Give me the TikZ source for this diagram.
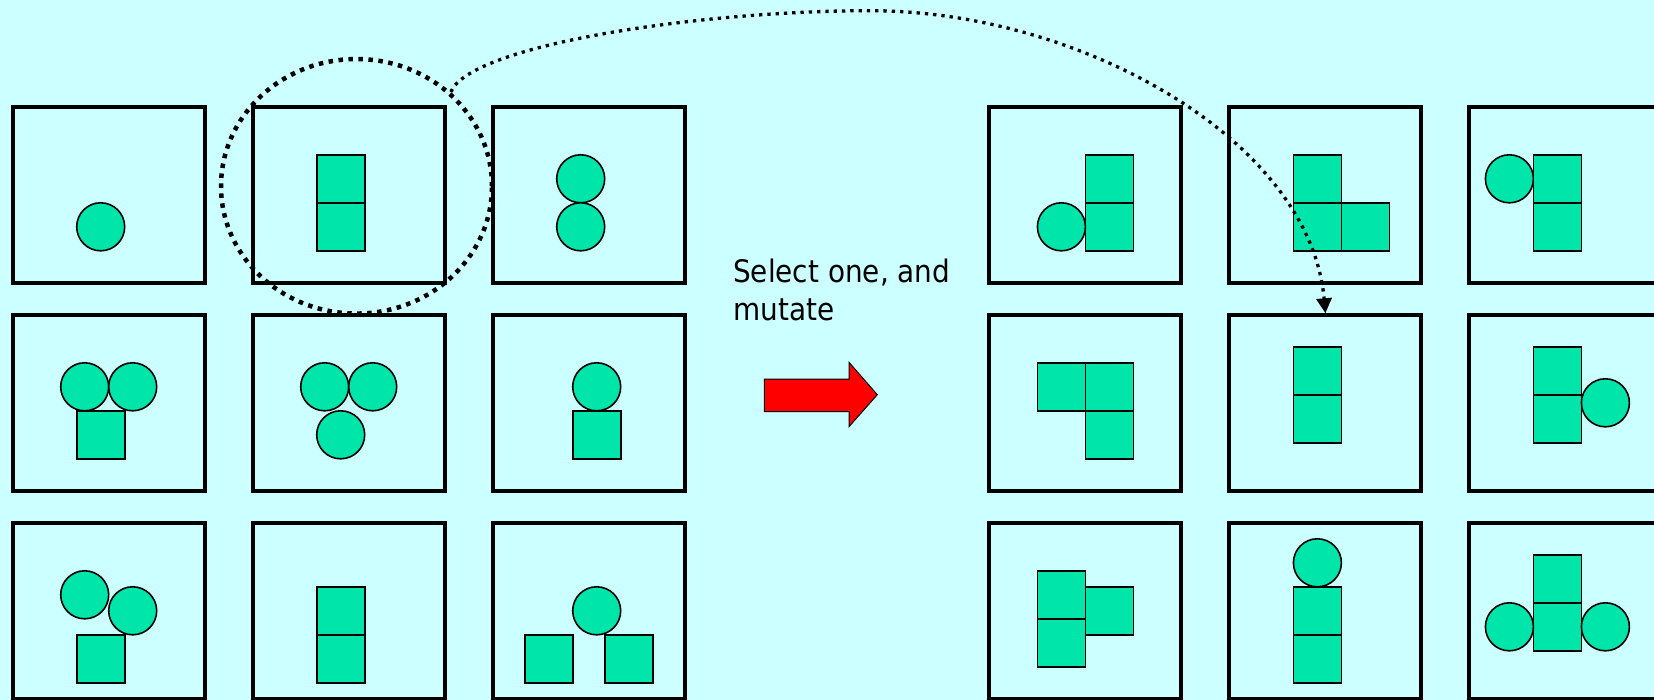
\documentclass[tikz,border=0pt]{standalone}
\usepackage{fontspec}
\newfontfamily\captionfont{DejaVu Sans}[FakeStretch=0.9]
\usetikzlibrary{shapes.geometric,arrows.meta}
\definecolor{paper}{RGB}{204,255,255}
\definecolor{blob}{RGB}{0,230,170}
\definecolor{pointer}{RGB}{255,0,0}
% one square block and one round block, centred on (x,y) inside a cell
\newcommand\sq[2]{\draw[part] ({#1-24},{#2-24}) rectangle ++(48,48);}
\newcommand\ci[2]{\draw[part] (#1,#2) circle[radius=24];}
% contents of the cell whose frame starts at (#1,#2)
\newcommand\cellat[3]{\begin{scope}[shift={(#1,#2)}]#3\end{scope}}
\begin{document}
\begin{tikzpicture}[x=1pt,y=-1pt,
  cell/.style={draw, line width=4pt, minimum width=192pt, minimum height=175.5pt, inner sep=0pt},
  part/.style={draw, fill=blob, line width=1.6pt},
  picked/.style={ellipse, draw, line width=4.5pt, dash pattern=on 4.5pt off 5.5pt,
                 minimum width=271pt, minimum height=254.5pt, inner sep=0pt},
  link/.style={line width=3.3pt, dash pattern=on 3.3pt off 5pt,
               -{Triangle[length=15pt,width=15pt]}},
  caption/.style={font=\captionfont\fontsize{31pt}{38.3pt}\selectfont, align=left, inner sep=0pt}]
\useasboundingbox (0,0) rectangle (1654,700);
\fill[paper] (0,0) rectangle (1654,700);
\clip (0,0) rectangle (1654,700);

% frames of the two populations
\foreach \c/\l in {0/12.7,1/252.7,2/492.7,3/989.4,4/1229.4,5/1469.4}
  \foreach \r in {0,1,2}
    \node[cell] (b\c\r) at ({\l+96},{107.3+208*\r+87.75}) {};

% parent population
\cellat{12.7}{107.3}{\ci{88}{119.5}}
\cellat{252.7}{107.3}{\sq{88}{71.5}\sq{88}{119.5}}
\cellat{492.7}{107.3}{\ci{88}{71.5}\ci{88}{119.5}}
\cellat{12.7}{315.3}{\ci{72}{71.5}\ci{120}{71.5}\sq{88}{119.5}}
\cellat{252.7}{315.3}{\ci{72}{71.5}\ci{120}{71.5}\ci{88}{119.5}}
\cellat{492.7}{315.3}{\ci{104}{71.5}\sq{104}{119.5}}
\cellat{12.7}{523.3}{\ci{72}{71.5}\ci{120}{87.5}\sq{88}{135.5}}
\cellat{252.7}{523.3}{\sq{88}{87.5}\sq{88}{135.5}}
\cellat{492.7}{523.3}{\ci{104}{87.5}\sq{56}{135.5}\sq{136}{135.5}}

% mutated offspring
\cellat{989.4}{107.3}{\sq{120}{71.5}\sq{120}{119.5}\ci{72}{119.5}}
\cellat{1229.4}{107.3}{\sq{88}{71.5}\sq{88}{119.5}\sq{136}{119.5}}
\cellat{1469.4}{107.3}{\ci{40}{71.5}\sq{88}{71.5}\sq{88}{119.5}}
\cellat{989.4}{315.3}{\sq{72}{71.5}\sq{120}{71.5}\sq{120}{119.5}}
\cellat{1229.4}{315.3}{\sq{88}{55.5}\sq{88}{103.5}}
\cellat{1469.4}{315.3}{\sq{88}{55.5}\sq{88}{103.5}\ci{136}{87.5}}
\cellat{989.4}{523.3}{\sq{72}{71.5}\sq{72}{119.5}\sq{120}{87.5}}
\cellat{1229.4}{523.3}{\ci{88}{39.5}\sq{88}{87.5}\sq{88}{135.5}}
\cellat{1469.4}{523.3}{\sq{88}{55.5}\sq{88}{103.5}\ci{40}{103.5}\ci{136}{103.5}}

% caption (anchored on the baseline of its last line) and the big arrow
\node[caption, anchor=base west] (note) at (733,321) {Select one, and\\mutate};
\draw[fill=pointer, line width=1pt, line join=miter]
  (764.3,379) -- (849,379) -- (849,362.3) -- (877.3,394.7)
  -- (849,426.7) -- (849,411.7) -- (764.3,411.7) -- cycle;

% selected parent and where it goes
\node[picked] (sel) at (356.5,186.3) {};
\draw[link] (sel.45) .. controls (470,45) and (700,10.7) .. (870,10.7)
  .. controls (1080,10.7) and (1310,140) .. (b41.north);
\end{tikzpicture}
\end{document}
